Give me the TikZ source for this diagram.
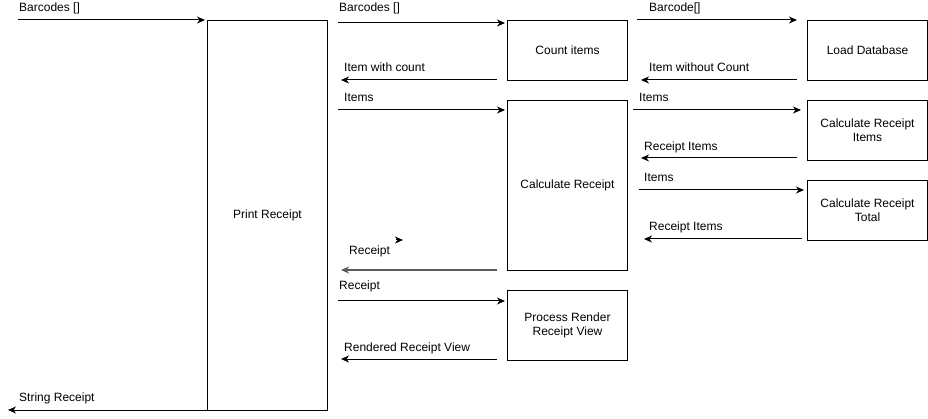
\documentclass[tikz,border=0pt]{standalone}
\usepackage{fontspec}
\setmainfont{Liberation Sans}
\usepackage{xcolor}
\usepackage{tikz}
\usetikzlibrary{calc,arrows.meta,positioning}

\begin{document}
\begin{tikzpicture}[x=1pt, y=-1pt, font=\fontsize{12}{14}\selectfont]

  % Colours and styles
  \definecolor{linecolor}{RGB}{0,0,0}
  \definecolor{fadecolor}{RGB}{90,90,90}
  \tikzset{
    procbox/.style={draw=linecolor, line width=1pt, anchor=north west, align=center,
      minimum width=120pt, inner sep=0pt},
    flow/.style={-{Stealth[length=8pt, width=7pt, inset=2.5pt]}, line width=1pt, draw=linecolor},
    flowlbl/.style={anchor=base west, inner sep=0pt}
  }

  % Canvas
  \useasboundingbox (0,0) rectangle (928,419);

  % Process boxes
  \node[procbox, minimum height=390pt] (pr) at (207,20) {Print Receipt};
  \node[procbox, minimum height=60pt] (ci) at (507,20) {Count items};
  \node[procbox, minimum height=170pt] (cr) at (507,100) {Calculate Receipt};
  \node[procbox, minimum height=70pt] (prv) at (507,290) {Process Render\\Receipt View};
  \node[procbox, minimum height=60pt] (lb) at (807,20) {Load Database};
  \node[procbox, minimum height=60pt] (cri) at (807,100) {Calculate Receipt\\Items};
  \node[procbox, minimum height=60pt] (crt) at (807,180) {Calculate Receipt\\Total};

  % Free ends of the flows
  \coordinate (in1) at (18,20);
  \coordinate (pc1) at (338,23);
  \coordinate (cp1) at (497,80);
  \coordinate (pc2) at (338,110);
  \coordinate (cl1) at (637,20);
  \coordinate (lc1) at (797,80);
  \coordinate (cc1) at (633,110);
  \coordinate (cc2) at (797,158);
  \coordinate (cc3) at (639,190);
  \coordinate (cc4) at (802,239);
  \coordinate (st1) at (396,240);
  \coordinate (st2) at (403,240);
  \coordinate (cp2) at (497,270);
  \coordinate (pc3) at (338,301);
  \coordinate (cp3) at (497,359);
  \coordinate (po1) at (217,410);
  \coordinate (out1) at (8,410);

  % Flows into and out of Print Receipt
  \draw[flow, shorten >=2pt] (in1) -- (pr.north west);
  \draw[flow, shorten >=2pt] (pc1) -- (ci.west |- pc1);
  \draw[flow, shorten >=13pt] (cp1) -- (pr.east |- cp1);
  \draw[flow, shorten >=2pt] (pc2) -- (cr.west |- pc2);
  \draw[flow] (st1) -- (st2);
  \draw[flow, draw=fadecolor, line width=1.5pt, shorten >=13pt] (cp2) -- (pr.east |- cp2);
  \draw[flow, shorten >=2pt] (pc3) -- (prv.west |- pc3);
  \draw[flow, shorten >=13pt] (cp3) -- (pr.east |- cp3);
  \draw[flow] (po1) -- (out1);

  % Flows on the right
  \draw[flow, shorten >=10pt] (cl1) -- (lb.west |- cl1);
  \draw[flow, shorten >=13pt] (lc1) -- (ci.east |- lc1);
  \draw[flow, shorten >=6pt] (cc1) -- (cri.west |- cc1);
  \draw[flow, shorten >=13pt] (cc2) -- (cr.east |- cc2);
  \draw[flow, shorten >=3pt] (cc3) -- (crt.west |- cc3);
  \draw[flow, shorten >=16pt] (cc4) -- (cr.east |- cc4);

  % Flow labels
  \node[flowlbl] (l1) at (19,12) {Barcodes []};
  \node[flowlbl] (l2) at (339,12) {Barcodes []};
  \node[flowlbl] (l3) at (344,72) {Item with count};
  \node[flowlbl] (l4) at (344,102) {Items};
  \node[flowlbl] (l5) at (649,12) {Barcode[]};
  \node[flowlbl] (l6) at (649,72) {Item without Count};
  \node[flowlbl] (l7) at (639,102) {Items};
  \node[flowlbl] (l8) at (644,151) {Receipt Items};
  \node[flowlbl] (l9) at (644,182) {Items};
  \node[flowlbl] (l10) at (649,231) {Receipt Items};
  \node[flowlbl] (l11) at (349,255) {Receipt};
  \node[flowlbl] (l12) at (339,290) {Receipt};
  \node[flowlbl] (l13) at (344,351) {Rendered Receipt View};
  \node[flowlbl] (l14) at (19,401) {String Receipt};

\end{tikzpicture}
\end{document}
